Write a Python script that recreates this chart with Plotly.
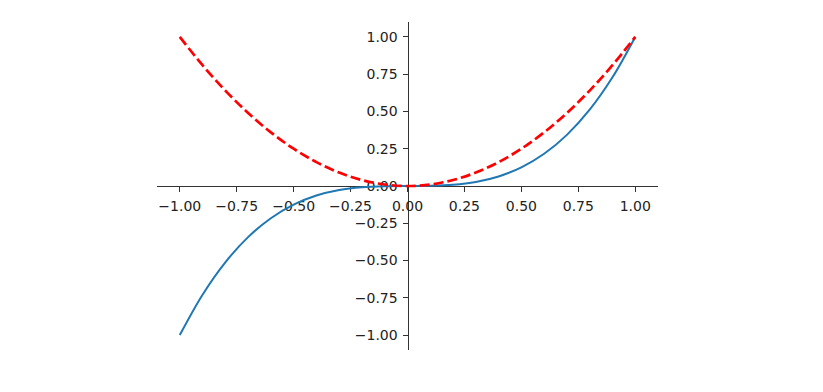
import plotly.graph_objects as go

x_vals = [-1.0, -0.9, -0.8, -0.7, -0.6, -0.5, -0.4, -0.3, -0.2, -0.1, 0.0,
          0.1, 0.2, 0.3, 0.4, 0.5, 0.6, 0.7, 0.8, 0.9, 1.0]
cubic_vals = [-1.0, -0.729, -0.512, -0.343, -0.216, -0.125, -0.064, -0.027, -0.008, -0.001, 0.0,
              0.001, 0.008, 0.027, 0.064, 0.125, 0.216, 0.343, 0.512, 0.729, 1.0]
square_vals = [1.0, 0.81, 0.64, 0.49, 0.36, 0.25, 0.16, 0.09, 0.04, 0.01, 0.0,
               0.01, 0.04, 0.09, 0.16, 0.25, 0.36, 0.49, 0.64, 0.81, 1.0]
tick_vals = [-1.0, -0.75, -0.5, -0.25, 0.0, 0.25, 0.5, 0.75, 1.0]

fig = go.Figure()
fig.add_trace(go.Scatter(x=x_vals, y=cubic_vals, mode="lines",
                         line=dict(color="#1f77b4", width=2, shape="spline")))
fig.add_trace(go.Scatter(x=x_vals, y=square_vals, mode="lines",
                         line=dict(color="#ff0000", width=2.7, dash="10px,4px", shape="spline")))

axis_common = dict(
    range=[-1.1, 1.1], showgrid=False, zeroline=False, showline=True,
    linecolor="#333333", linewidth=1, ticks="outside", ticklen=5, tickwidth=1,
    tickcolor="#333333", tickvals=tick_vals, tickformat=".2f",
    tickfont=dict(family="DejaVu Sans", size=14, color="#222222"),
    anchor="free", position=0.5, automargin=False, layer="below traces",
)

fig.update_layout(
    width=823, height=392,
    margin=dict(l=157, r=165, t=22, b=42),
    paper_bgcolor="white", plot_bgcolor="white",
    showlegend=False,
    xaxis=dict(**axis_common, ticklabelstandoff=2),
    yaxis=dict(**axis_common, ticklabelstandoff=2),
)

fig.write_html("out.html")
